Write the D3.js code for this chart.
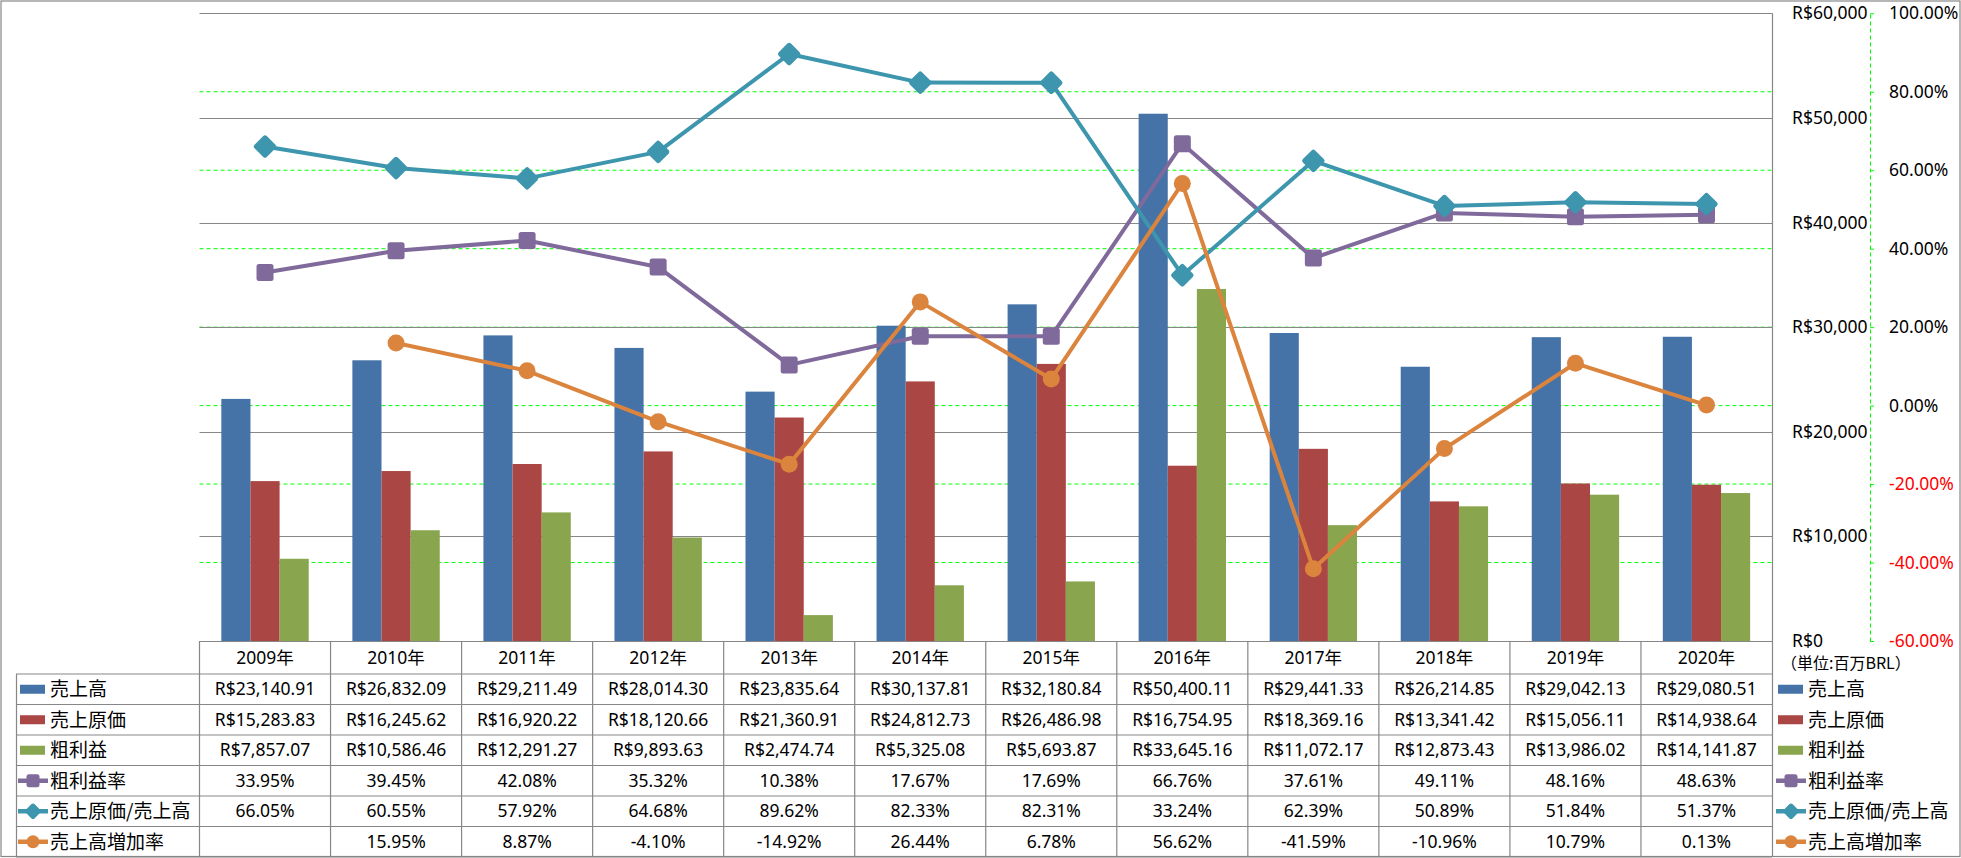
<!DOCTYPE html>
<html><head><meta charset="utf-8">
<script src="https://cdn.jsdelivr.net/npm/d3@7"></script>
<style>body{margin:0;background:#fff}svg{display:block}</style>
</head><body>
<svg id="c" width="1961" height="858"></svg>
<script>
// ---- data ----
const years = ["2009年","2010年","2011年","2012年","2013年","2014年","2015年","2016年","2017年","2018年","2019年","2020年"];
const sales = [23140.91,26832.09,29211.49,28014.30,23835.64,30137.81,32180.84,50400.11,29441.33,26214.85,29042.13,29080.51];
const cost = [15283.83,16245.62,16920.22,18120.66,21360.91,24812.73,26486.98,16754.95,18369.16,13341.42,15056.11,14938.64];
const gross = [7857.07,10586.46,12291.27,9893.63,2474.74,5325.08,5693.87,33645.16,11072.17,12873.43,13986.02,14141.87];
const grossMargin = [33.95,39.45,42.08,35.32,10.38,17.67,17.69,66.76,37.61,49.11,48.16,48.63];
const costRatio = [66.05,60.55,57.92,64.68,89.62,82.33,82.31,33.24,62.39,50.89,51.84,51.37];
const salesGrowth = [null,15.95,8.87,-4.10,-14.92,26.44,6.78,56.62,-41.59,-10.96,10.79,0.13];
const moneyTicks = [0,10000,20000,30000,40000,50000,60000];
const pctTicks = [-60,-40,-20,0,20,40,60,80,100];
const seriesNames = ["売上高","売上原価","粗利益","粗利益率","売上原価/売上高","売上高増加率"];
const unitLabel = "（単位:百万BRL）";

// ---- layout ----
const W = 1961, H = 858;
const L = 199.5, R = 1772, T = 13.3, B = 641;
const headerBottom = 674, rowH = 30.5, tableLeft = 16, tableBottom = 857;
const colors = {bar:["#4572A7","#AA4643","#89A54E"], line:["#80699B","#3D96AE","#DB843D"]};
const gridGray = "#878787";
const numFont = "'Noto Sans','Noto Sans CJK JP',sans-serif";
const jpFont = "'Noto Sans CJK JP','Noto Sans',sans-serif";

const svg = d3.select("#c");
svg.append("rect").attr("x",0).attr("y",0).attr("width",W).attr("height",H).attr("fill","#fff");

const x = d3.scaleBand().domain(years).range([L,R]);
const xi = d3.scaleBand().domain(["a","b","c"]).range([0,x.bandwidth()]).paddingInner(0).paddingOuter(0.75);
const yL = d3.scaleLinear().domain([0,60000]).range([B,T]);
const yR = d3.scaleLinear().domain([-60,100]).range([B,T]);

// green dashed percent gridlines
svg.append("g").selectAll("line").data(pctTicks.filter(d=>d>-60 && d<100)).join("line")
  .attr("x1",L).attr("x2",R).attr("y1",d=>yR(d)).attr("y2",d=>yR(d))
  .attr("stroke","#00ff00").attr("stroke-width",1).attr("stroke-dasharray","4,3");
// gray money gridlines
svg.append("g").selectAll("line").data(moneyTicks).join("line")
  .attr("x1",L).attr("x2",R).attr("y1",d=>Math.round(yL(d))+0.5).attr("y2",d=>Math.round(yL(d))+0.5)
  .attr("stroke",gridGray).attr("stroke-width",1.2);

// bars
const barSeries = [sales,cost,gross];
const keys = ["a","b","c"];
barSeries.forEach((arr,si)=>{
  svg.append("g").selectAll("rect").data(arr).join("rect")
    .attr("x",(d,i)=>x(years[i])+xi(keys[si]))
    .attr("width",xi.bandwidth())
    .attr("y",d=>yL(d)).attr("height",d=>B-yL(d))
    .attr("fill",colors.bar[si]);
});

// lines
const lineSeries = [grossMargin,costRatio,salesGrowth];
const cx = i => x(years[i]) + x.bandwidth()/2;
const lineGen = d3.line().defined(d=>d!=null).x((d,i)=>cx(i)).y(d=>yR(d));
function marker(g, type, px, py, s, color){
  if(type===0){
    g.append("rect").attr("x",px-s/2).attr("y",py-s/2).attr("width",s).attr("height",s).attr("rx",2.5).attr("fill",color);
  } else if(type===1){
    const d = s*0.72;
    g.append("rect").attr("x",-d/2).attr("y",-d/2).attr("width",d).attr("height",d).attr("rx",2.5)
      .attr("transform",`translate(${px},${py}) rotate(45)`).attr("fill",color);
  } else {
    g.append("circle").attr("cx",px).attr("cy",py).attr("r",s/2).attr("fill",color);
  }
}
lineSeries.forEach((arr,si)=>{
  const g = svg.append("g");
  g.append("path").datum(arr).attr("d",lineGen).attr("fill","none")
    .attr("stroke",colors.line[si]).attr("stroke-width",4).attr("stroke-linejoin","round");
  arr.forEach((v,i)=>{ if(v!=null) marker(g, si, cx(i), yR(v), si===1?24:17, colors.line[si]); });
});

// right border of plot / table
svg.append("line").attr("x1",R+0.5).attr("x2",R+0.5).attr("y1",T).attr("y2",tableBottom)
  .attr("stroke",gridGray).attr("stroke-width",1.2);

// money axis
const cur = d3.formatLocale({decimal:".",thousands:",",grouping:[3],currency:["R$",""]});
const fmtMoney0 = cur.format("$,.0f");
const fmtMoney2 = cur.format("$,.2f");
const axL = svg.append("g").attr("transform","translate(1792,0)")
  .call(d3.axisRight(yL).tickValues(moneyTicks).tickSize(0).tickPadding(0).tickFormat(fmtMoney0));
axL.select(".domain").remove();
axL.selectAll("text").attr("font-family",numFont).attr("font-size",17.5).attr("fill","#000");

// percent axis
const axR = svg.append("g").attr("transform","translate(1870,0)")
  .call(d3.axisRight(yR).tickValues(pctTicks).tickSize(4).tickSizeOuter(0).tickPadding(15)
    .tickFormat(d=>d.toFixed(2)+"%"));
axR.select(".domain").attr("stroke","#00ff00").attr("stroke-dasharray","4,3");
axR.selectAll(".tick line").attr("stroke","#00ff00");
axR.selectAll("text").attr("font-family",numFont).attr("font-size",17.5)
  .attr("fill",d=>d<0?"#ff0000":"#000");

// unit label
svg.append("text").attr("x",1781).attr("y",663).attr("dy","0.35em")
  .attr("font-family",jpFont).attr("font-size",16).attr("fill","#000").text(unitLabel);

// ---- table ----
const tg = svg.append("g");
const lineAttr = sel => sel.attr("stroke",gridGray).attr("stroke-width",1.2);
// header top
lineAttr(tg.append("line").attr("x1",L).attr("x2",R).attr("y1",B+0.5).attr("y2",B+0.5));
// horizontal row lines
d3.range(7).forEach(k=>{
  const yy = headerBottom + k*rowH;
  lineAttr(tg.append("line").attr("x1",tableLeft).attr("x2",R).attr("y1",yy).attr("y2",yy));
});
// vertical lines
years.forEach(yr=>{
  lineAttr(tg.append("line").attr("x1",x(yr)).attr("x2",x(yr)).attr("y1",B).attr("y2",tableBottom));
});
lineAttr(tg.append("line").attr("x1",tableLeft+0.5).attr("x2",tableLeft+0.5).attr("y1",headerBottom).attr("y2",tableBottom));

// header labels
tg.selectAll("text.hdr").data(years).join("text").attr("class","hdr")
  .attr("x",d=>x(d)+x.bandwidth()/2).attr("y",(B+headerBottom)/2).attr("dy","0.35em")
  .attr("text-anchor","middle").attr("font-family",numFont).attr("font-size",17.5).attr("fill","#000")
  .text(d=>d);

const rows = [sales,cost,gross,grossMargin,costRatio,salesGrowth];
rows.forEach((arr,ri)=>{
  const yc = headerBottom + ri*rowH + rowH/2;
  tg.append("g").selectAll("text").data(arr).join("text")
    .attr("x",(d,i)=>x(years[i])+x.bandwidth()/2).attr("y",yc).attr("dy","0.35em")
    .attr("text-anchor","middle").attr("font-family",numFont).attr("font-size",17.5).attr("fill","#000")
    .text(d=> d==null ? "" : (ri<3 ? fmtMoney2(d) : d.toFixed(2)+"%"));
});

// legend symbols (left in table, right beside table)
function legendItem(x0, yc, ri){
  if(ri<3){
    tg.append("rect").attr("x",x0).attr("y",yc-4.5).attr("width",25).attr("height",9).attr("fill",colors.bar[ri]);
  } else {
    const li = ri-3;
    tg.append("line").attr("x1",x0-2).attr("x2",x0+28).attr("y1",yc).attr("y2",yc)
      .attr("stroke",colors.line[li]).attr("stroke-width",4.5);
    marker(tg, li, x0+13, yc, li===1?17:13, colors.line[li]);
  }
  tg.append("text").attr("x",x0+30).attr("y",yc).attr("dy","0.36em")
    .attr("font-family",jpFont).attr("font-size",19).attr("fill","#000").text(seriesNames[ri]);
}
seriesNames.forEach((n,ri)=>{
  const yc = headerBottom + ri*rowH + rowH/2;
  legendItem(20, yc, ri);
  legendItem(1778, yc, ri);
});

// outer border
svg.append("rect").attr("x",1).attr("y",1).attr("width",W-2).attr("height",H-2.5)
  .attr("fill","none").attr("stroke",gridGray).attr("stroke-width",1.2);
</script>
</body></html>
